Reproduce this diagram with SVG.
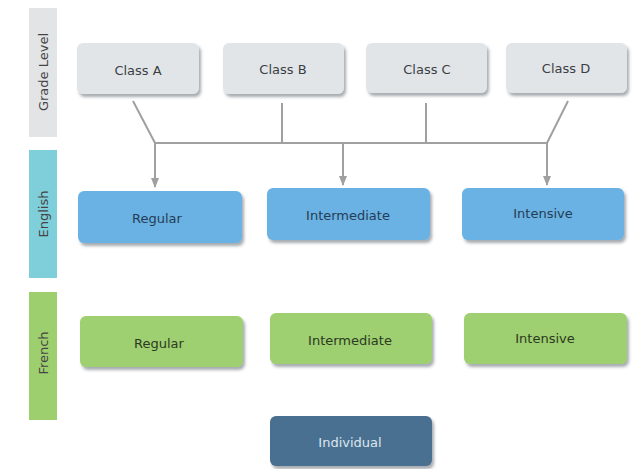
<svg xmlns="http://www.w3.org/2000/svg" width="639" height="469" viewBox="0 0 639 469">
<defs>
<filter id="sh" x="-10%" y="-20%" width="125%" height="150%">
<feDropShadow dx="2" dy="3" stdDeviation="1.8" flood-color="#3a4450" flood-opacity="0.45"/>
</filter>
<marker id="ar" markerWidth="10" markerHeight="8" refX="9" refY="4" orient="auto" markerUnits="userSpaceOnUse">
<path d="M0,0 L10,4 L0,8 Z" fill="#a0a0a0"/>
</marker>
<style>
text{font-family:"DejaVu Sans","Verdana",sans-serif;font-size:13px;text-anchor:middle;dominant-baseline:central}
.grey rect{fill:#e2e5e8;filter:url(#sh)}
.grey text{fill:#3a3f44}
.blue rect{fill:#6ab2e3;filter:url(#sh)}
.blue text{fill:#253c55}
.green rect{fill:#9ecf6f;filter:url(#sh)}
.green text{fill:#2c3a22}
.dark rect{fill:#4a7091;filter:url(#sh)}
.dark text{fill:#dde7f0}
.bar text{fill:#444}
.conn{stroke:#a0a0a0;stroke-width:2;fill:none}
</style>
</defs>
<g id="bar-grade" class="bar"><rect x="29" y="8" width="28" height="129" fill="#e2e4e6"/><text transform="translate(43,72) rotate(-90)">Grade Level</text></g>
<g id="bar-english" class="bar"><rect x="29" y="150" width="28" height="128" fill="#7fcfda"/><text transform="translate(43,214) rotate(-90)">English</text></g>
<g id="bar-french" class="bar"><rect x="29" y="292" width="28" height="128" fill="#9ecf6f"/><text transform="translate(43,353) rotate(-90)">French</text></g>

<g id="connectors">
<path class="conn" d="M133,101 L155,143 M282,103 L282,143 M426,103 L426,143 M568,101 L547,143 M155,143 L547,143"/>
<path class="conn" d="M155,143 L155,187" marker-end="url(#ar)"/>
<path class="conn" d="M343,143 L343,185" marker-end="url(#ar)"/>
<path class="conn" d="M547,143 L547,185" marker-end="url(#ar)"/>
</g>

<g id="class-a" class="grey"><rect x="77" y="43" width="122" height="51" rx="6"/><text x="138" y="70">Class A</text></g>
<g id="class-b" class="grey"><rect x="223" y="43" width="121" height="51" rx="6"/><text x="283" y="69">Class B</text></g>
<g id="class-c" class="grey"><rect x="366" y="43" width="121" height="50" rx="6"/><text x="427" y="69">Class C</text></g>
<g id="class-d" class="grey"><rect x="506" y="43" width="121" height="50" rx="6"/><text x="566" y="68">Class D</text></g>

<g id="en-regular" class="blue"><rect x="78" y="191" width="164" height="52" rx="6"/><text x="157" y="218">Regular</text></g>
<g id="en-intermediate" class="blue"><rect x="267" y="188" width="163" height="52" rx="6"/><text x="348" y="215">Intermediate</text></g>
<g id="en-intensive" class="blue"><rect x="462" y="188" width="162" height="52" rx="6"/><text x="543" y="213">Intensive</text></g>

<g id="fr-regular" class="green"><rect x="80" y="316" width="163" height="51" rx="6"/><text x="159" y="343">Regular</text></g>
<g id="fr-intermediate" class="green"><rect x="270" y="313" width="162" height="51" rx="6"/><text x="350" y="340">Intermediate</text></g>
<g id="fr-intensive" class="green"><rect x="464" y="313" width="163" height="51" rx="6"/><text x="545" y="338">Intensive</text></g>

<g id="individual" class="dark"><rect x="270" y="416" width="162" height="50" rx="6"/><text x="350" y="442">Individual</text></g>
</svg>
